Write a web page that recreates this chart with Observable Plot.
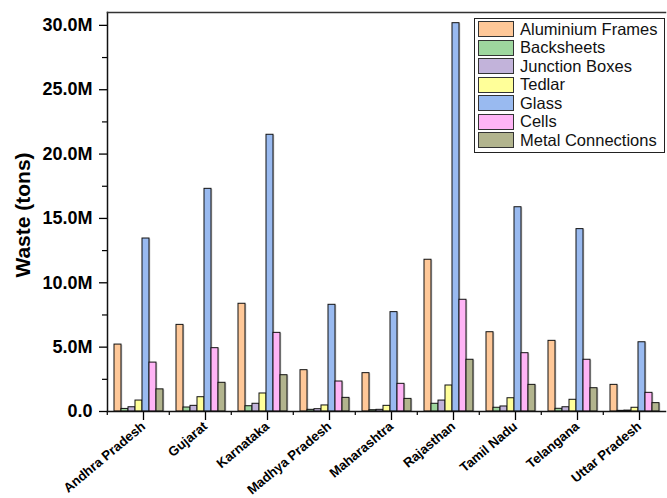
<!DOCTYPE html>
<html>
<head>
<meta charset="utf-8">
<script src="https://cdn.jsdelivr.net/npm/d3@7"></script>
<script src="https://cdn.jsdelivr.net/npm/@observablehq/plot@0.6"></script>
<style>
  body { margin: 0; background: #fff; }
  #chart { position: relative; width: 667px; height: 498px; font-family: "Liberation Sans", Arial, sans-serif; }
  #legend { position: absolute; left: 474px; top: 18px; width: 191px; border: 1px solid #222; background: #fff; padding: 1px 0 2px 0; box-sizing: border-box; }
  .item { display: flex; align-items: center; height: 18.5px; font-size: 16.5px; color: #111; white-space: nowrap; }
  .sw { width: 36px; height: 16px; border: 1px solid #333; margin: 0 6px 0 3px; box-sizing: border-box; flex: none; }
</style>
</head>
<body>
<div id="chart"></div>
<script>
// States on the x axis
const states = ["Andhra Pradesh", "Gujarat", "Karnataka", "Madhya Pradesh", "Maharashtra",
                "Rajasthan", "Tamil Nadu", "Telangana", "Uttar Pradesh"];

// PV module components (series)
const components = ["Aluminium Frames", "Backsheets", "Junction Boxes", "Tedlar",
                    "Glass", "Cells", "Metal Connections"];
const colors = ["#FFC898", "#9ED69E", "#C2B3DA", "#FFFF99", "#99BAF0", "#FFB4F6", "#B2B48E"];

// Waste per state, in tons
const aluminium  = [5.20e6, 6.73e6, 8.37e6, 3.21e6, 2.98e6, 11.79e6, 6.16e6, 5.49e6, 2.07e6];
const backsheets = [0.20e6, 0.31e6, 0.41e6, 0.13e6, 0.10e6, 0.60e6, 0.29e6, 0.21e6, 0.05e6];
const junction   = [0.33e6, 0.44e6, 0.60e6, 0.18e6, 0.13e6, 0.85e6, 0.39e6, 0.33e6, 0.07e6];
const tedlar     = [0.85e6, 1.11e6, 1.40e6, 0.47e6, 0.44e6, 2.02e6, 1.03e6, 0.91e6, 0.29e6];
const glass      = [13.44e6, 17.30e6, 21.50e6, 8.29e6, 7.72e6, 30.17e6, 15.87e6, 14.17e6, 5.38e6];
const cells      = [3.80e6, 4.92e6, 6.11e6, 2.33e6, 2.15e6, 8.68e6, 4.53e6, 4.02e6, 1.45e6];
const metal      = [1.72e6, 2.23e6, 2.82e6, 1.06e6, 0.98e6, 4.02e6, 2.07e6, 1.81e6, 0.65e6];

// Y axis ticks
const majorTicks = [0, 5e6, 10e6, 15e6, 20e6, 25e6, 30e6];
const minorTicks = [2.5e6, 7.5e6, 12.5e6, 17.5e6, 22.5e6, 27.5e6];

const series = [aluminium, backsheets, junction, tedlar, glass, cells, metal];
const rows = [];
states.forEach((state, i) => {
  components.forEach((component, j) => {
    rows.push({state, component, waste: series[j][i]});
  });
});

const W = 667, H = 498, ML = 105, MR = 0, MT = 12, MB = 87;
const step = (W - ML - MR) / states.length;
const fmt = d => d === 0 ? "0.0" : (d / 1e6).toFixed(1) + "M";

const plot = Plot.plot({
  width: W, height: H,
  marginLeft: ML, marginRight: MR, marginTop: MT, marginBottom: MB,
  style: {fontFamily: '"Liberation Sans", Arial, sans-serif', color: "#000", background: "transparent"},
  fx: {domain: states, padding: 0, label: null, axis: null},
  x: {domain: components, paddingInner: 0, paddingOuter: 0.8, axis: null},
  y: {domain: [0, 31e6], axis: null},
  color: {domain: components, range: colors},
  marks: [
    // soft shadow behind each bar
    Plot.barY(rows, {fx: "state", x: "component", y: "waste", fill: "#888", fillOpacity: 0.45, dx: 1.3, dy: 0.6}),
    Plot.barY(rows, {fx: "state", x: "component", y: "waste", fill: "component", stroke: "#111", strokeWidth: 1}),
    Plot.axisY(majorTicks, {tickSize: 8, tickPadding: 7, tickFormat: fmt, fontSize: 18, fontWeight: "bold", label: null, strokeWidth: 1.3}),
    Plot.axisY(minorTicks, {tickSize: 5, tickFormat: () => "", label: null, strokeWidth: 1.2}),
    Plot.axisFx({anchor: "bottom", tickSize: 8, tickPadding: 4, tickRotate: -40, fontSize: 13.2, fontWeight: "bold", label: null, strokeWidth: 1.3, dx: 5, dy: 1}),
    Plot.axisFx({anchor: "bottom", tickSize: 4, tickFormat: () => "", label: null, dx: -step / 2, strokeWidth: 1.2}),
    Plot.frame({anchor: "left", facet: "super", stroke: "#111", strokeWidth: 1.5}),
    Plot.frame({anchor: "bottom", facet: "super", stroke: "#111", strokeWidth: 1.5}),
    Plot.frame({anchor: "top", facet: "super", stroke: "#333", strokeWidth: 1.5}),
    Plot.text(["Waste (tons)"], {frameAnchor: "left", textAnchor: "middle", rotate: -90, dx: -84, dy: 3, fontSize: 21, fontWeight: "bold", facet: "super"})
  ]
});

const chart = document.getElementById("chart");
chart.appendChild(plot);

// Legend box in the upper right of the plot area
const legend = document.createElement("div");
legend.id = "legend";
components.forEach((c, j) => {
  const item = document.createElement("div");
  item.className = "item";
  const sw = document.createElement("span");
  sw.className = "sw";
  sw.style.background = colors[j];
  const label = document.createElement("span");
  label.textContent = c;
  item.appendChild(sw);
  item.appendChild(label);
  legend.appendChild(item);
});
chart.appendChild(legend);
</script>
</body>
</html>
